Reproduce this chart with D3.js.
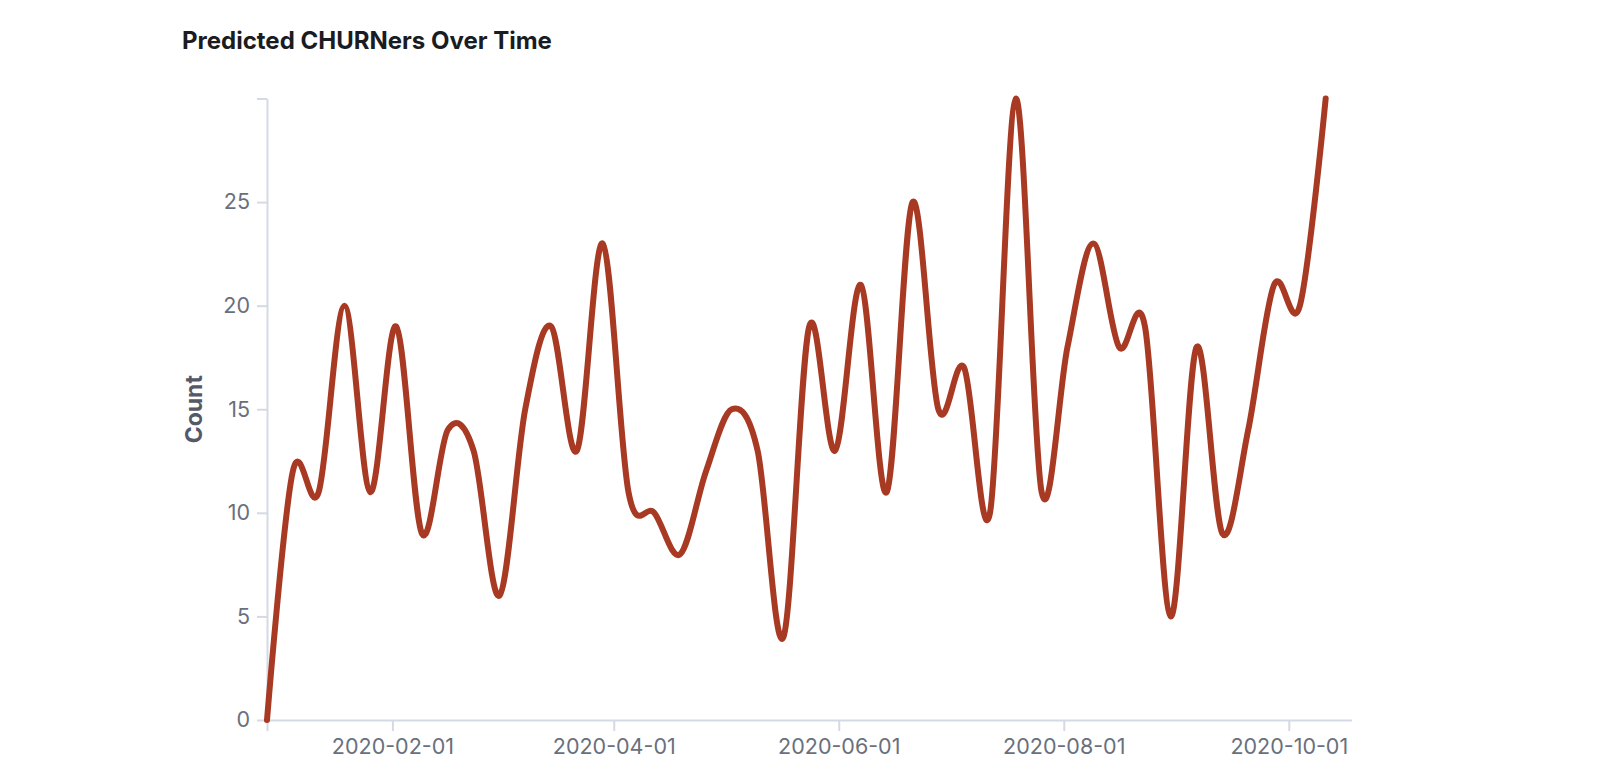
<!DOCTYPE html>
<html>
<head>
<meta charset="utf-8">
<script src="https://cdn.jsdelivr.net/npm/d3@7"></script>
<style>
  html, body { margin: 0; padding: 0; background: #ffffff; }
  svg { display: block; }
  text { font-family: Inter, "Noto Sans", sans-serif; }
</style>
</head>
<body>
<svg id="chart" width="1600" height="770"></svg>
<script>
// ---- data ----
const title = "Predicted CHURNers Over Time";
const yTitle = "Count";
const dates = [
  "2019-12-29","2020-01-05","2020-01-12","2020-01-19","2020-01-26",
  "2020-02-02","2020-02-09","2020-02-16","2020-02-23","2020-03-01",
  "2020-03-08","2020-03-15","2020-03-22","2020-03-29","2020-04-05",
  "2020-04-12","2020-04-19","2020-04-26","2020-05-03","2020-05-10",
  "2020-05-17","2020-05-24","2020-05-31","2020-06-07","2020-06-14",
  "2020-06-21","2020-06-28","2020-07-05","2020-07-12","2020-07-19",
  "2020-07-26","2020-08-02","2020-08-09","2020-08-16","2020-08-23",
  "2020-08-30","2020-09-06","2020-09-13","2020-09-20","2020-09-27",
  "2020-10-04","2020-10-11"
];
const counts = [
  0, 12, 11, 20, 11,
  19, 9, 14, 13, 6,
  15, 19, 13, 23, 11,
  10, 8, 12, 15, 13,
  4, 19, 13, 21, 11,
  25, 15, 17, 10, 30,
  11, 18, 23, 18, 19,
  5, 18, 9, 14, 21,
  20, 30
];
const xDomain = ["2019-12-29", "2020-10-18"];
const xTickLabels = ["2020-02-01", "2020-04-01", "2020-06-01", "2020-08-01", "2020-10-01"];
const yDomain = [0, 30];
const yTickValues = [0, 5, 10, 15, 20, 25, 30];
const yTickLabels = ["0", "5", "10", "15", "20", "25", ""];

// ---- drawing ----
const parse = d3.utcParse("%Y-%m-%d");
const svg = d3.select("#chart");

const x = d3.scaleUtc()
  .domain(xDomain.map(parse))
  .range([267, 1351.5]);
const y = d3.scaleLinear()
  .domain(yDomain)
  .range([720, 98.5]);

const axisColor = "#d3dae6";
const tickTextColor = "#69707d";

// title
svg.append("text")
  .attr("x", 182)
  .attr("y", 49)
  .attr("font-size", 24)
  .attr("font-weight", 700)
  .attr("fill", "#1a1c21")
  .text(title);

// y axis
const yAxis = d3.axisLeft(y)
  .tickValues(yTickValues)
  .tickFormat((d, i) => yTickLabels[i])
  .tickSize(10)
  .tickSizeOuter(0)
  .tickPadding(7);
const gy = svg.append("g")
  .attr("transform", `translate(${x.range()[0]},0)`)
  .call(yAxis);
gy.select(".domain").attr("stroke", axisColor).attr("stroke-width", 2);
gy.selectAll(".tick line").attr("stroke", axisColor).attr("stroke-width", 2);
gy.selectAll(".tick text")
  .attr("fill", tickTextColor)
  .attr("font-size", 21.5)
  .attr("font-family", "Inter, 'Noto Sans', sans-serif");

// x axis
const xTickDates = [xDomain[0]].concat(xTickLabels).map(parse);
const xAxis = d3.axisBottom(x)
  .tickValues(xTickDates)
  .tickFormat((d, i) => i === 0 ? "" : xTickLabels[i - 1])
  .tickSize(11)
  .tickSizeOuter(0)
  .tickPadding(8);
const gx = svg.append("g")
  .attr("transform", `translate(0,${y(0)})`)
  .call(xAxis);
gx.select(".domain").attr("stroke", axisColor).attr("stroke-width", 2);
gx.selectAll(".tick line").attr("stroke", axisColor).attr("stroke-width", 2);
gx.selectAll(".tick text")
  .attr("fill", tickTextColor)
  .attr("font-size", 21.5)
  .attr("font-family", "Inter, 'Noto Sans', sans-serif");

// y title
svg.append("text")
  .attr("transform", `translate(202,${(y.range()[0] + y.range()[1]) / 2}) rotate(-90)`)
  .attr("text-anchor", "middle")
  .attr("font-size", 23)
  .attr("font-weight", 700)
  .attr("fill", "#535966")
  .text(yTitle);

// line
const line = d3.line()
  .x((d, i) => x(parse(dates[i])))
  .y(d => y(d))
  .curve(d3.curveCardinal.tension(0));

svg.append("path")
  .datum(counts)
  .attr("d", line)
  .attr("fill", "none")
  .attr("stroke", "#a83a23")
  .attr("stroke-width", 6)
  .attr("stroke-linejoin", "round")
  .attr("stroke-linecap", "round");
</script>
</body>
</html>
